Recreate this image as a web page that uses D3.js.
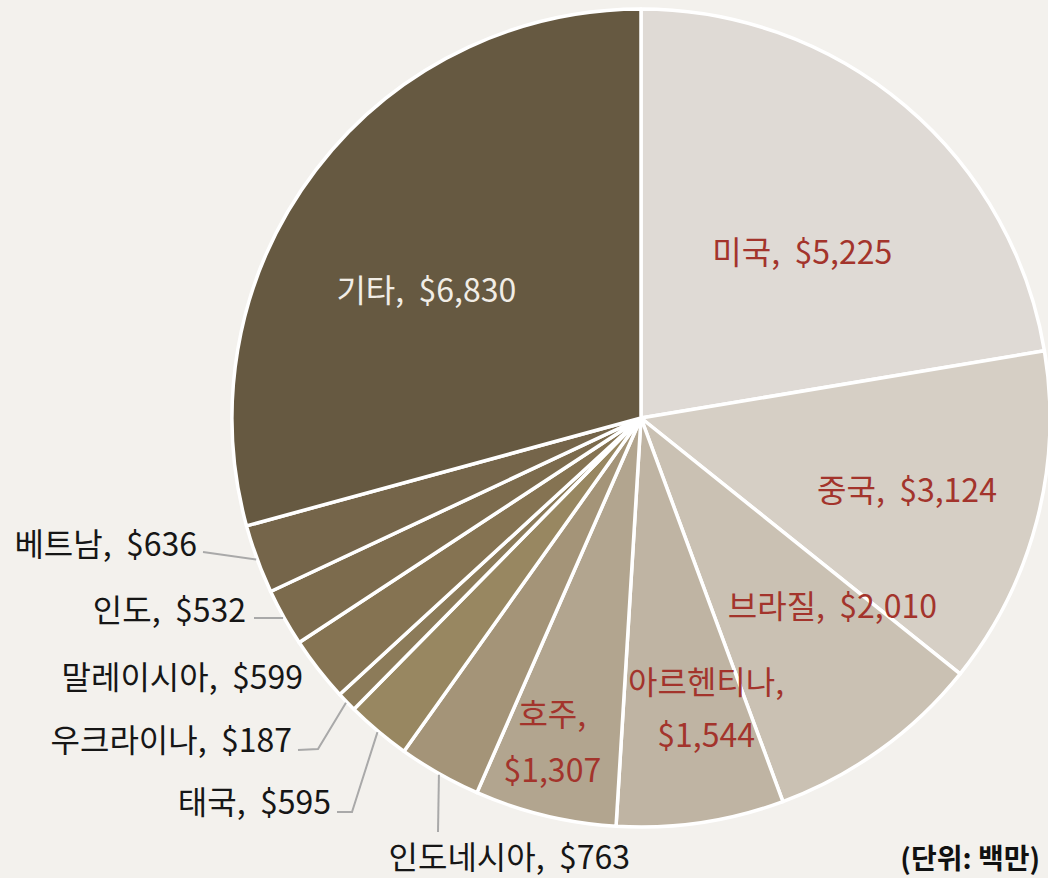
<!DOCTYPE html>
<html>
<head>
<meta charset="utf-8">
<script src="https://cdn.jsdelivr.net/npm/d3@7"></script>
<style>
  html, body { margin: 0; padding: 0; background: #f3f1ed; }
  svg { display: block; }
  text { font-family: "Noto Sans CJK KR", "Noto Sans", sans-serif; white-space: pre; }
</style>
</head>
<body>
<svg id="chart" width="1048" height="878"></svg>
<script>
"use strict";

// data (million USD), clockwise from 12 o'clock
const countries = ["미국", "중국", "브라질", "아르헨티나", "호주", "인도네시아", "태국", "우크라이나", "말레이시아", "인도", "베트남", "기타"];
const values = [5225, 3124, 2010, 1544, 1307, 763, 595, 187, 599, 532, 636, 6830];
const sliceColors = ["#dfdad5", "#d6cfc5", "#cac1b3", "#bfb4a3", "#b2a58f", "#a49478", "#988761", "#8c7b59", "#857352", "#7c6b4d", "#75654a", "#665941"];
const unitLabel = "(단위: 백만)";

const width = 1048;
const height = 878;
const cx = 641;
const cy = 418;
const radius = 409;
const fontSize = 32;

// inside labels: polar position (deg clockwise from top, distance from centre)
const innerLabels = {
  "미국": { angle: 43.8, dist: 233, color: "#a3342c" },
  "중국": { angle: 104.7, dist: 275, color: "#a3342c" },
  "브라질": { angle: 134.2, dist: 267, color: "#a3342c" },
  "아르헨티나": { angle: 167.3, dist: 296, color: "#a3342c", wrap: 53 },
  "호주": { angle: 195.4, dist: 334, color: "#a3342c", wrap: 56 },
  "기타": { angle: 301.2, dist: 251, color: "#f1ede6" },
};

// outside labels: text end point + leader elbow
const outerLabels = {
  "베트남": { x: 197, y: 542, elbow: [[203, 552]] },
  "인도": { x: 246, y: 608, elbow: [[254, 618]] },
  "말레이시아": { x: 303, y: 675, elbow: [] },
  "우크라이나": { x: 292, y: 738, elbow: [[318, 749], [298, 750]] },
  "태국": { x: 331, y: 800, elbow: [[352, 812], [337, 812]] },
  "인도네시아": { x: 630, y: 855, elbow: [[438, 832]] },
};

const data = countries.map((c, i) => ({ name: c, value: values[i], color: sliceColors[i] }));

const svg = d3.select("#chart");
svg.append("rect").attr("width", width).attr("height", height).attr("fill", "#f3f1ed");

const g = svg.append("g").attr("transform", `translate(${cx},${cy})`);

const pie = d3.pie().sort(null).value((d) => d.value);
const arc = d3.arc().innerRadius(0).outerRadius(radius);
const arcs = pie(data);

g.selectAll("path.slice")
  .data(arcs)
  .enter()
  .append("path")
  .attr("class", "slice")
  .attr("d", arc)
  .attr("fill", (d) => d.data.color)
  .attr("stroke", "#ffffff")
  .attr("stroke-width", 3.5)
  .attr("stroke-linejoin", "round");

const fmt = d3.format(",");
function labelText(d) {
  return d.data.name + ",  $" + fmt(d.data.value);
}

// inner labels
arcs.forEach((d) => {
  const lab = innerLabels[d.data.name];
  if (!lab) return;
  const a = (lab.angle * Math.PI) / 180;
  const x = lab.dist * Math.sin(a);
  const y = -lab.dist * Math.cos(a);
  const t = g.append("text")
    .attr("x", x)
    .attr("y", y)
    .attr("text-anchor", "middle")
    .attr("dominant-baseline", "central")
    .attr("fill", lab.color)
    .style("font-size", fontSize + "px");
  if (lab.wrap) {
    t.append("tspan").attr("x", x).attr("y", y - lab.wrap / 2).text(d.data.name + ",");
    t.append("tspan").attr("x", x).attr("y", y + lab.wrap / 2).text("$" + fmt(d.data.value));
  } else {
    t.text(labelText(d));
  }
});

// outer labels with leader lines
arcs.forEach((d) => {
  const lab = outerLabels[d.data.name];
  if (!lab) return;
  const mid = (d.startAngle + d.endAngle) / 2;
  const start = [cx + (radius + 1) * Math.sin(mid), cy - (radius + 1) * Math.cos(mid)];
  if (lab.elbow.length) {
    svg.append("path")
      .attr("d", d3.line()([start].concat(lab.elbow)))
      .attr("fill", "none")
      .attr("stroke", "#a9a9a9")
      .attr("stroke-width", 2);
  }
  svg.append("text")
    .attr("x", lab.x)
    .attr("y", lab.y)
    .attr("text-anchor", "end")
    .attr("dominant-baseline", "central")
    .attr("fill", "#161616")
    .style("font-size", fontSize + "px")
    .text(labelText(d));
});

svg.append("text")
  .attr("x", 1040)
  .attr("y", 857)
  .attr("text-anchor", "end")
  .attr("dominant-baseline", "central")
  .attr("fill", "#111")
  .style("font-size", "28px")
  .style("font-weight", "bold")
  .text(unitLabel);
</script>
</body>
</html>
